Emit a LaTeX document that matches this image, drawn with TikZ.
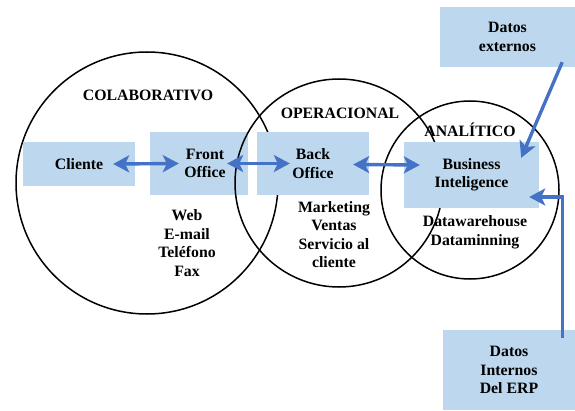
\documentclass[tikz,border=0pt]{standalone}
\usepackage{fontspec}
\setmainfont{Liberation Serif}
\usetikzlibrary{arrows.meta,calc}
\definecolor{boxblue}{RGB}{189,215,238}
\definecolor{arrblue}{RGB}{68,114,196}
\begin{document}
\begin{tikzpicture}[x=1pt,y=1pt,
  circ/.style={draw=black,line width=1.5pt},
  box/.style={fill=boxblue,draw=none,align=center,inner sep=0pt,
    font=\rmfamily\fontsize{15.8}{18.5}\selectfont\bfseries},
  lbl/.style={align=center,inner sep=0pt,font=\rmfamily\fontsize{15.8}{18.6}\selectfont\bfseries},
  tip/.style={arrows={-Stealth[length=16pt,width=17pt,inset=4pt]}},
  conn/.style={draw=arrblue,line width=3.4pt,tip},
  dconn/.style={draw=arrblue,line width=3.4pt,arrows={Stealth[length=16pt,width=17pt,inset=4pt]-Stealth[length=16pt,width=17pt,inset=4pt]}}]
\useasboundingbox (0,0) rectangle (575,410);
% circle 1 and its boxes
\draw[circ] (147,227) circle[radius=131];
\node[box,minimum width=112pt,minimum height=44pt] (cliente) at (79,246) {Cliente};
\node[box,minimum width=98pt,minimum height=63pt] (front) at (199,246.5) {\hspace*{12pt}Front\\\hspace*{12pt}Office};
% circle 2
\draw[circ] (339,227) circle[radius=104];
\node[box,minimum width=112pt,minimum height=63pt] (back) at (313,246.5) {Back\\Office};
% circle 3
\draw[circ] (470,220) circle[radius=89];
\node[box,minimum width=135pt,minimum height=66pt] (bi) at (471.5,235) {\raisebox{4pt}{\begin{tabular}{@{}c@{}}Business\\Inteligence\end{tabular}}};
% outer boxes
\node[box,minimum width=135pt,minimum height=60pt] (ext) at (507.5,373) {Datos\\externos};
\node[box,minimum width=132pt,minimum height=80pt] (erp) at (509,40) {Datos\\Internos\\Del ERP};
% labels
\node[lbl] (lcol) at (148,315) {COLABORATIVO};
\node[lbl] (lope) at (340,297) {OPERACIONAL};
\node[lbl] (lana) at (470,280) {ANALÍTICO};
\node[lbl] (lweb) at (187,167) {Web\\E-mail\\Teléfono\\Fax};
\node[lbl] (lmkt) at (334,175.5) {Marketing\\Ventas\\Servicio al\\cliente};
\node[lbl] (ldw) at (475,177.5) {Datawarehouse\\Dataminning};
% connectors
\draw[dconn] ($(cliente.east)+(-22,0)$) -- ($(front.west)+(29,0)$);
\draw[dconn] ($(front.east)+(-21,0)$) -- ($(back.west)+(33,0)$);
\draw[dconn] ($(back.east)+(-16,-1)$) -- ($(bi.west)+(16,10)$);
\draw[conn] ($(ext.south east)+(-13,5)$) -- ($(bi.north east)+(-18,-16)$);
\coordinate (erptop) at ($(erp.north east)+(-13,-8)$);
\coordinate (bitip) at ($(bi.east)+(-10,-22)$);
\draw[conn] (erptop) |- (bitip);
\end{tikzpicture}
\end{document}
